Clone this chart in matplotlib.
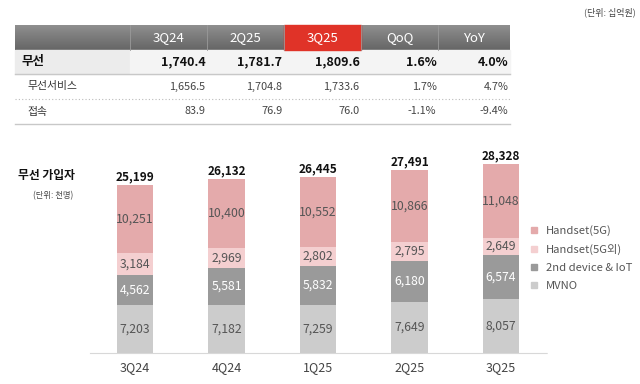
import numpy as np
import matplotlib
matplotlib.use("Agg")
import matplotlib.pyplot as plt
from matplotlib.patches import Rectangle
from matplotlib.lines import Line2D

plt.rcParams['font.family'] = ['Noto Sans CJK KR', 'DejaVu Sans']

# 표 데이터 (단위: 십억원)
table_cols = ['3Q24', '2Q25', '3Q25', 'QoQ', 'YoY']
table_rows = ['무선', '무선서비스', '접속']
table_vals = [
    ['1,740.4', '1,781.7', '1,809.6', '1.6%', '4.0%'],
    ['1,656.5', '1,704.8', '1,733.6', '1.7%', '4.7%'],
    ['83.9', '76.9', '76.0', '-1.1%', '-9.4%'],
]

# 무선 가입자 (단위: 천명)
quarters = ['3Q24', '4Q24', '1Q25', '2Q25', '3Q25']
series_names = ['MVNO', '2nd device & IoT', 'Handset(5G외)', 'Handset(5G)']
mvno = [7203, 7182, 7259, 7649, 8057]
device_iot = [4562, 5581, 5832, 6180, 6574]
handset_other = [3184, 2969, 2802, 2795, 2649]
handset_5g = [10251, 10400, 10552, 10866, 11048]
totals = [25199, 26132, 26445, 27491, 28328]

colors = ['#cccccc', '#9a9a9a', '#f4cfd0', '#e4aaab']
label_colors = ['#555555', '#ffffff', '#555555', '#555555']

W, H = 640, 384
fig = plt.figure(figsize=(W / 100, H / 100), dpi=100)
ax0 = fig.add_axes([0, 0, 1, 1])
ax0.set_xlim(0, W)
ax0.set_ylim(H, 0)
ax0.axis('off')

# ---- 표 ----
ax0.text(636, 12, '(단위: 십억원)', ha='right', va='center', fontsize=6.5, color='#444444')

col_edges = [15, 130, 207, 284, 361, 438, 510]
row_edges = [25, 50, 74, 99, 124]

# 헤더 그라데이션
grad = np.linspace(0.56, 0.40, 50).reshape(-1, 1)
ax0.imshow(grad, cmap='gray', vmin=0, vmax=1, extent=[col_edges[0], col_edges[-1], row_edges[1], row_edges[0]],
           aspect='auto', zorder=1)
ax0.add_patch(Rectangle((col_edges[3], row_edges[0]), col_edges[4] - col_edges[3], row_edges[1] - row_edges[0],
                        color='#e03328', zorder=2))
for xe in col_edges[1:-1]:
    ax0.plot([xe, xe], [row_edges[0], row_edges[1]], color='#9a9a9a', lw=0.6, zorder=2)
for i, c in enumerate(table_cols):
    ax0.text((col_edges[i + 1] + col_edges[i + 2]) / 2, (row_edges[0] + row_edges[1]) / 2 + 0.5, c,
             ha='center', va='center', fontsize=9.5, color='white', zorder=3)

# 무선 행 배경
ax0.add_patch(Rectangle((col_edges[0], row_edges[1]), col_edges[1] - col_edges[0], row_edges[2] - row_edges[1],
                        color='#ececec', zorder=1))
ax0.add_patch(Rectangle((col_edges[1], row_edges[1]), col_edges[-1] - col_edges[1], row_edges[2] - row_edges[1],
                        color='#f4f4f4', zorder=1))
ax0.plot([col_edges[0], col_edges[-1]], [row_edges[2], row_edges[2]], color='#c8c8c8', lw=1.0)
ax0.plot([col_edges[0], col_edges[-1]], [row_edges[3], row_edges[3]], color='#bbbbbb', lw=0.8, ls=(0, (1, 2)))
ax0.plot([col_edges[0], col_edges[-1]], [row_edges[4], row_edges[4]], color='#c8c8c8', lw=1.0)

for r, name in enumerate(table_rows):
    yc = (row_edges[r + 1] + row_edges[r + 2]) / 2
    bold = r == 0
    ax0.text(22 if bold else 27, yc, name, ha='left', va='center',
             fontsize=9 if bold else 7.8, fontweight='bold' if bold else 'normal',
             color='#111111' if bold else '#333333', zorder=3)
    for i, v in enumerate(table_vals[r]):
        ax0.text(col_edges[i + 2] - 1.5, yc, v, ha='right', va='center',
                 fontsize=9 if bold else 7.8, fontweight='bold' if bold else 'normal',
                 color='#111111' if bold else '#444444', zorder=3)

# ---- 무선 가입자 ----
ax0.text(18, 176, '무선 가입자', ha='left', va='center', fontsize=8.5, fontweight='bold', color='#111111')
ax0.text(33, 196, '(단위: 천명)', ha='left', va='center', fontsize=6, color='#444444')

left_px, right_px = 90, 547
base_px, top_px = 353, 140
ymax = 25199 * (base_px - top_px) / 168.0
ax = fig.add_axes([left_px / W, 1 - base_px / H, (right_px - left_px) / W, (base_px - top_px) / H])
ax.patch.set_alpha(0)
x = np.arange(len(quarters))
ax.set_xlim(-45 / 91.5, (right_px - 135) / 91.5)
ax.set_ylim(0, ymax)

bottom = np.zeros(len(quarters))
for vals, col, lc, name in zip([mvno, device_iot, handset_other, handset_5g], colors, label_colors, series_names):
    vals = np.array(vals)
    ax.bar(x, vals, width=0.40, bottom=bottom, color=col, label=name)
    for xi, b, v in zip(x, bottom, vals):
        ax.text(xi, b + v / 2, f'{v:,}', ha='center', va='center', fontsize=8.8, color=lc)
    bottom += vals

for xi, t in zip(x, totals):
    ax.text(xi, t + 250, f'{t:,}', ha='center', va='bottom', fontsize=8.5, fontweight='bold', color='#111111')

for s in ['top', 'right', 'left']:
    ax.spines[s].set_visible(False)
ax.spines['bottom'].set_color('#d8d8d8')
ax.spines['bottom'].set_linestyle((0, (1, 1)))
ax.set_yticks([])
ax.set_xticks(x)
ax.set_xticklabels(quarters, fontsize=9, color='#444444')
ax.tick_params(axis='x', length=0, pad=6)

handles = [Line2D([], [], marker='s', ls='none', markersize=4.5, color=c) for c in colors[::-1]]
ax0.legend(handles, series_names[::-1], loc='upper left', bbox_to_anchor=(523 / W, 1 - 225 / H),
           frameon=False, fontsize=8.1, handletextpad=0.05, labelspacing=0.72, labelcolor='#555555',
           borderaxespad=0, borderpad=0)

fig.savefig('out.png', dpi=100)
